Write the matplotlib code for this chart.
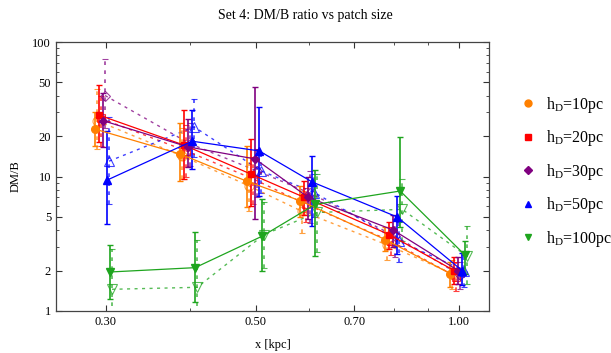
import matplotlib
matplotlib.use("Agg")
import matplotlib.pyplot as plt
from matplotlib.lines import Line2D
from matplotlib.ticker import FixedLocator, NullFormatter
import numpy as np

plt.rcParams["font.family"] = ["Liberation Serif", "DejaVu Serif"]
plt.rcParams["mathtext.fontset"] = "custom"
plt.rcParams["mathtext.rm"] = "Liberation Serif"

# patch sizes (kpc), group centres
X_BASE = [0.297, 0.397, 0.499, 0.598, 0.799, 0.997]

LABELS = ["10", "20", "30", "50", "100"]

# solid series (filled markers): value, lower, upper
h10_val = [22.5, 14.7, 9.2, 6.6, 3.4, 1.9]
h10_lo = [17, 9.2, 5.9, 5.0, 2.8, 1.5]
h10_hi = [30, 25, 16.8, 8.5, 4.2, 2.3]
h20_val = [28.6, 17.1, 10.4, 7.0, 3.7, 2.0]
h20_lo = [18, 9.6, 6.0, 5.2, 2.9, 1.6]
h20_hi = [48, 31, 19, 9.2, 4.6, 2.5]
h30_val = [26, 16.6, 13.5, 7.0, 4.0, 2.0]
h30_lo = [16.6, 11.7, 4.8, 4.8, 3.0, 1.6]
h30_hi = [42, 26.7, 46, 10, 5.2, 2.5]
h50_val = [9.4, 18.3, 15.5, 9.1, 5.0, 2.0]
h50_lo = [4.4, 11.4, 7.2, 4.3, 2.65, 1.55]
h50_hi = [21.8, 31, 33, 14.2, 7.2, 2.7]
h100_val = [1.95, 2.1, 3.6, 6.2, 7.8, 2.6]
h100_lo = [1.23, 1.17, 2.0, 2.56, 4.2, 1.9]
h100_hi = [3.1, 3.86, 6.8, 11.2, 19.6, 3.3]

# dashed series (open markers)
h10d_val = [26, 14.2, 8.5, 5.5, 3.1, 1.9]
h10d_lo = [16, 9.5, 5.5, 3.8, 2.4, 1.45]
h10d_hi = [45, 23, 14, 7.8, 3.8, 2.4]
h20d_val = [27, 15.5, 9.6, 6.2, 3.3, 1.8]
h20d_lo = [17, 10, 6.2, 4.6, 2.6, 1.4]
h20d_hi = [40, 24, 14, 8.2, 4.2, 2.3]
h30d_val = [40, 17.5, 11, 7.5, 3.6, 1.85]
h30d_lo = [23, 12, 7.0, 4.5, 2.5, 1.45]
h30d_hi = [75, 25, 16, 11, 4.8, 2.3]
h50d_val = [13, 23.4, 11, 7.6, 3.3, 2.0]
h50d_lo = [6.2, 14, 7.5, 5.0, 2.3, 1.5]
h50d_hi = [27.7, 37.6, 15, 10.5, 4.6, 2.6]
h100d_val = [1.45, 1.5, 3.7, 5.4, 5.7, 2.55]
h100d_lo = [0.8, 0.8, 2.1, 2.75, 3.3, 1.6]
h100d_hi = [2.9, 3.4, 6.5, 10.4, 9.5, 4.3]

solid = [
    (h10_val, h10_lo, h10_hi),
    (h20_val, h20_lo, h20_hi),
    (h30_val, h30_lo, h30_hi),
    (h50_val, h50_lo, h50_hi),
    (h100_val, h100_lo, h100_hi),
]
dashed = [
    (h10d_val, h10d_lo, h10d_hi),
    (h20d_val, h20d_lo, h20d_hi),
    (h30d_val, h30d_lo, h30d_hi),
    (h50d_val, h50d_lo, h50d_hi),
    (h100d_val, h100d_lo, h100d_hi),
]

COLORS = ["#ff8000", "#ff0000", "#800080", "#0000ff", "#1ea51e"]
MARKERS = ["o", "s", "D", "^", "v"]
MSIZE = [5.5, 5, 4.5, 5.5, 5.5]
DODGE = [-8, -4, 0, 4, 7]  # pixel-ish dodge, converted to log factor

fig = plt.figure(figsize=(6.11, 3.53), dpi=100)
ax = fig.add_axes([0.0917, 0.119, 0.7087, 0.762])

xb = np.array(X_BASE)
for k in range(5):
    c = COLORS[k]
    for (val, lo, hi), style, extra in ((dashed[k], "dash", 2), (solid[k], "solid", 0)):
        x = xb * np.exp((DODGE[k] + extra) / 293.0)
        v = np.array(val)
        err = [v - np.array(lo), np.array(hi) - v]
        if style == "solid":
            line, caps, bars = ax.errorbar(
                x, v, yerr=err, color=c, lw=0.9, elinewidth=1.2, capsize=2.5,
                capthick=1.0, marker=MARKERS[k], ms=MSIZE[k], mfc=c, mec=c, zorder=3,
            )
        else:
            line, caps, bars = ax.errorbar(
                x, v, yerr=err, color=c, lw=1.0, elinewidth=1.2, capsize=2.5,
                capthick=1.0, marker=MARKERS[k], ms=MSIZE[k] + 1, mfc="none", mec=c,
                mew=0.8, alpha=0.75, zorder=2,
            )
            line.set_linestyle((0, (2.2, 3.2)))
            for b in bars:
                b.set_linestyle((0, (2.2, 3.2)))

ax.set_xscale("log")
ax.set_yscale("log")
ax.set_xlim(0.253, 1.108)
ax.set_ylim(1, 100)

ax.xaxis.set_major_locator(FixedLocator([0.3, 0.5, 0.7, 1.0]))
ax.set_xticklabels(["0.30", "0.50", "0.70", "1.00"])
ax.xaxis.set_minor_locator(FixedLocator([0.4, 0.6, 0.8, 0.9]))
ax.xaxis.set_minor_formatter(NullFormatter())
ax.yaxis.set_major_locator(FixedLocator([1, 2, 5, 10, 20, 50, 100]))
ax.set_yticklabels(["1", "2", "5", "10", "20", "50", "100"])
ax.yaxis.set_minor_locator(FixedLocator([3, 4, 6, 7, 8, 9, 30, 40, 60, 70, 80, 90]))
ax.yaxis.set_minor_formatter(NullFormatter())
ax.tick_params(which="both", direction="in", top=True, right=True, labelsize=9, colors="#333333", labelcolor="black")
ax.tick_params(which="major", length=4, width=0.8)
ax.tick_params(which="minor", length=2, width=0.6)
for s in ax.spines.values():
    s.set_color("#444444")
    s.set_linewidth(0.9)

ax.set_xlabel("x [kpc]", fontsize=9, labelpad=8)
ax.set_ylabel("DM/B", fontsize=9, labelpad=8)
fig.suptitle("Set 4: DM/B ratio vs patch size", fontsize=10, y=0.975)

handles = [
    Line2D([], [], ls="none", marker=MARKERS[k], color=COLORS[k], ms=MSIZE[k] - 0.5)
    for k in range(5)
]
labels = [r"h$_\mathrm{D}$=" + s + "pc" for s in LABELS]
fig.legend(handles, labels, loc="upper left", bbox_to_anchor=(0.852, 0.731),
           frameon=False, fontsize=11.5, handlelength=0.9, handletextpad=0.7,
           labelspacing=0.84, borderaxespad=0, borderpad=0)

fig.savefig("out.png", dpi=100)
